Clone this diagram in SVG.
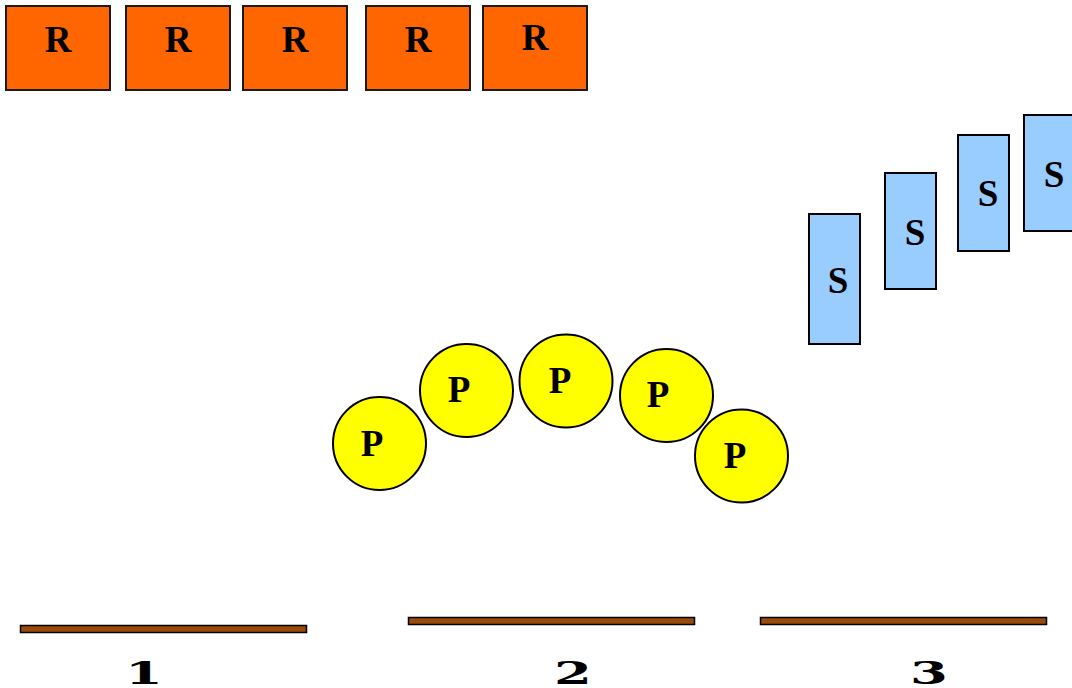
<svg xmlns="http://www.w3.org/2000/svg" width="1072" height="688" viewBox="0 0 1072 688">
<style>
.r{fill:#FF6600;stroke:#1a1a1a;stroke-width:2}
.s{fill:#99CCFF;stroke:#000;stroke-width:2}
.p{fill:#FFFF00;stroke:#000;stroke-width:2}
.b{fill:#9A4A0A;stroke:#000;stroke-width:1.5}
.t{font-family:"Liberation Serif","Times New Roman",serif;font-weight:bold;font-size:37px;fill:#000;text-anchor:middle}
.d{font-family:"DejaVu Serif",serif;font-weight:bold;font-size:32px;fill:#000;text-anchor:middle}
</style>
<rect width="1072" height="688" fill="#fff"/>
<g id="R1"><rect class="r" x="6" y="6" width="104" height="84"/><text class="t" x="58" y="52">R</text></g>
<g id="R2"><rect class="r" x="126" y="6" width="104" height="84"/><text class="t" x="178" y="52">R</text></g>
<g id="R3"><rect class="r" x="243" y="6" width="104" height="84"/><text class="t" x="295" y="52">R</text></g>
<g id="R4"><rect class="r" x="366" y="6" width="104" height="84"/><text class="t" x="418" y="52">R</text></g>
<g id="R5"><rect class="r" x="483" y="6" width="104" height="84"/><text class="t" x="535" y="50">R</text></g>
<g id="S1"><rect class="s" x="809" y="214" width="51" height="130"/><text class="t" x="838" y="293">S</text></g>
<g id="S2"><rect class="s" x="885" y="173" width="51" height="116"/><text class="t" x="915" y="245">S</text></g>
<g id="S3"><rect class="s" x="958" y="135" width="51" height="116"/><text class="t" x="988" y="206">S</text></g>
<g id="S4"><rect class="s" x="1024" y="115" width="51" height="116"/><text class="t" x="1054" y="187">S</text></g>
<g id="P1"><circle class="p" cx="379.5" cy="443.5" r="46.5"/><text class="t" x="372" y="456">P</text></g>
<g id="P2"><circle class="p" cx="466.5" cy="390.5" r="46.5"/><text class="t" x="459" y="402">P</text></g>
<g id="P3"><circle class="p" cx="566" cy="381" r="46.5"/><text class="t" x="560" y="393">P</text></g>
<g id="P4"><circle class="p" cx="666.5" cy="395.5" r="46.5"/><text class="t" x="658" y="407">P</text></g>
<g id="P5"><circle class="p" cx="741.5" cy="456" r="46.5"/><text class="t" x="735" y="468">P</text></g>
<g id="bar1"><rect class="b" x="20.5" y="625.5" width="286" height="7"/><text class="d" transform="translate(144 684) scale(1.7 1)">1</text></g>
<g id="bar2"><rect class="b" x="408.5" y="617.5" width="286" height="7"/><text class="d" transform="translate(573 684) scale(1.7 1)">2</text></g>
<g id="bar3"><rect class="b" x="760.5" y="617.5" width="286" height="7"/><text class="d" transform="translate(929 684) scale(1.7 1)">3</text></g>
<g id="connectors"/>
</svg>
